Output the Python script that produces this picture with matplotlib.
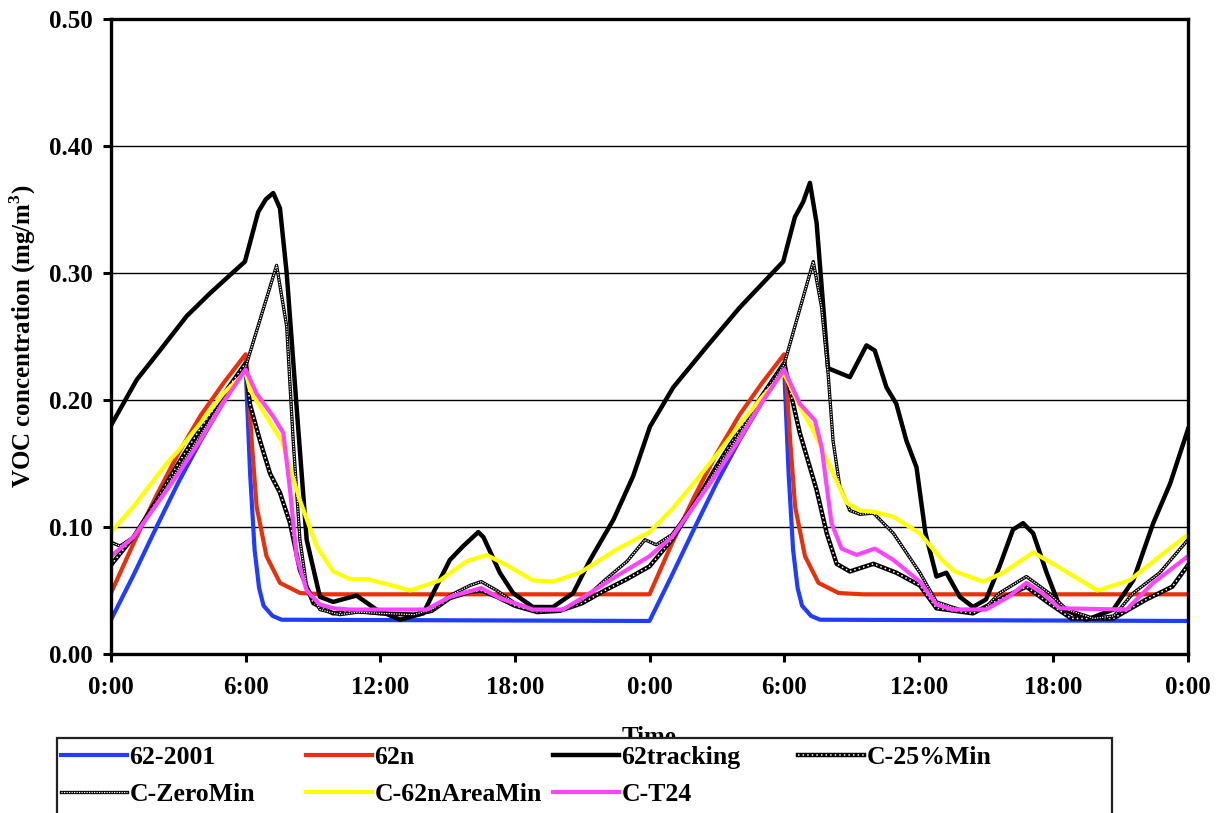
import matplotlib
matplotlib.use("Agg")
import matplotlib.pyplot as plt
from matplotlib.patches import Rectangle

plt.rcParams['font.family'] = ['Liberation Serif', 'DejaVu Serif']
plt.rcParams['font.weight'] = 'bold'
plt.rcParams['mathtext.fontset'] = 'custom'
plt.rcParams['mathtext.rm'] = 'Liberation Serif:bold'
plt.rcParams['mathtext.bf'] = 'Liberation Serif:bold'

# hours since midnight of day 1
t_2001 = [0, 1, 2, 3, 4, 5, 6, 6.2, 6.4, 6.6, 6.8, 7.2, 7.6, 24,
          25, 26, 27, 28, 29, 30, 30.2, 30.4, 30.6, 30.8, 31.2, 31.6, 48]
v_2001 = [0.027, 0.062, 0.099, 0.135, 0.168, 0.198, 0.226, 0.142, 0.082, 0.052, 0.038, 0.030, 0.027, 0.026,
          0.062, 0.099, 0.135, 0.168, 0.198, 0.226, 0.142, 0.082, 0.052, 0.038, 0.030, 0.027, 0.026]

t_62n = [0, 1, 2, 3, 4, 5, 6, 6.1, 6.27, 6.49, 6.93, 7.53, 8.43, 9.5, 24,
         25, 26, 27, 28, 29, 30, 30.1, 30.27, 30.49, 30.93, 31.53, 32.43, 33.5, 48]
v_62n = [0.048, 0.087, 0.124, 0.158, 0.188, 0.213, 0.236, 0.215, 0.168, 0.116, 0.077, 0.056, 0.048, 0.047, 0.047,
         0.087, 0.124, 0.158, 0.188, 0.213, 0.236, 0.215, 0.168, 0.116, 0.077, 0.056, 0.048, 0.047, 0.047]

t_track = [0, 1.15, 2.18, 3.37, 4.41, 5.97, 6.56, 6.9, 7.23, 7.53, 7.83, 8.27, 8.72, 9.31, 9.9, 10.94,
           11.83, 12.88, 13.92, 14.36, 15.1, 15.7, 16.37, 16.6, 17.33, 17.92, 18.8, 19.7, 20.6, 21.35,
           22.4, 23.27, 24.02, 25.06, 26.55, 28.03, 29.96, 30.48, 30.85, 31.15, 31.45, 31.96, 32.93,
           33.67, 34.04, 34.56, 35.0, 35.45, 35.9, 36.3, 36.79, 37.23, 37.83, 38.42, 39.0, 39.6, 40.2,
           40.65, 41.1, 41.7, 42.29, 43.48, 44.67, 45.56, 46.45, 47.2, 48]
v_track = [0.180, 0.216, 0.239, 0.266, 0.284, 0.309, 0.348, 0.358, 0.363, 0.351, 0.300, 0.195, 0.090,
           0.045, 0.041, 0.046, 0.035, 0.027, 0.032, 0.048, 0.074, 0.085, 0.096, 0.092, 0.064, 0.048,
           0.037, 0.037, 0.048, 0.074, 0.106, 0.140, 0.179, 0.210, 0.242, 0.273, 0.309, 0.344, 0.356,
           0.371, 0.339, 0.225, 0.218, 0.243, 0.239, 0.210, 0.197, 0.168, 0.147, 0.095, 0.061, 0.064,
           0.045, 0.037, 0.043, 0.069, 0.098, 0.103, 0.095, 0.064, 0.037, 0.027, 0.035, 0.058, 0.103,
           0.134, 0.177]

t_25 = [0, 0.4, 1, 2, 3, 4, 5, 6, 6.19, 6.64, 7.09, 7.53, 7.98, 8.42, 9.02, 9.9, 11.0, 12.0, 13.5,
        14.3, 15.1, 16.0, 16.5, 17.2, 18.0, 19.0, 20.0, 21.0, 22.0, 23.0, 24.0, 25, 26, 27, 28, 29,
        30, 30.26, 30.7, 31.45, 31.9, 32.34, 32.93, 33.98, 35.0, 36.05, 36.79, 38.42, 39.6, 40.8,
        41.8, 42.8, 44.67, 46.15, 47.3, 48]
v_25 = [0.070, 0.079, 0.092, 0.120, 0.150, 0.178, 0.204, 0.229, 0.197, 0.168, 0.142, 0.127, 0.103,
        0.066, 0.040, 0.032, 0.034, 0.032, 0.031, 0.034, 0.044, 0.049, 0.050, 0.045, 0.038, 0.033,
        0.034, 0.040, 0.050, 0.059, 0.069, 0.090, 0.118, 0.148, 0.176, 0.203, 0.229, 0.208, 0.174,
        0.129, 0.095, 0.071, 0.065, 0.071, 0.064, 0.054, 0.036, 0.032, 0.043, 0.053, 0.040, 0.028,
        0.028, 0.043, 0.053, 0.070]

t_zero = [0, 0.4, 1, 2, 3, 4, 5, 6, 7.38, 7.83, 8.12, 8.42, 8.72, 9.31, 10.2, 11.0, 12.0, 13.5, 14.3,
          15.1, 16.0, 16.5, 17.2, 18.0, 19.0, 20.0, 21.0, 22.0, 23.0, 23.8, 24.3, 25, 26, 27, 28, 29,
          30, 31.3, 31.67, 31.96, 32.18, 32.48, 32.93, 33.38, 33.98, 34.87, 36.05, 36.79, 37.83, 38.9,
          39.6, 40.8, 41.8, 42.6, 43.8, 44.7, 45.56, 46.74, 48]
v_zero = [0.088, 0.085, 0.092, 0.118, 0.146, 0.173, 0.200, 0.226, 0.306, 0.258, 0.168, 0.090, 0.053,
          0.035, 0.031, 0.033, 0.032, 0.031, 0.035, 0.046, 0.054, 0.057, 0.050, 0.040, 0.034, 0.034,
          0.042, 0.058, 0.073, 0.090, 0.086, 0.094, 0.118, 0.146, 0.173, 0.200, 0.228, 0.309, 0.273,
          0.221, 0.168, 0.132, 0.113, 0.110, 0.111, 0.095, 0.064, 0.041, 0.035, 0.035, 0.048, 0.061,
          0.048, 0.035, 0.028, 0.030, 0.048, 0.064, 0.090]

t_area = [0, 1, 2, 2.48, 3, 4, 5, 6, 6.19, 6.64, 7.6, 8.42, 9.16, 9.9, 10.65, 11.4, 12.3, 13.33,
          14.66, 15.85, 16.74, 17.63, 18.8, 19.7, 20.9, 22.5, 24.0, 25, 26, 27, 28, 29, 30, 30.64,
          31.3, 31.9, 32.79, 33.38, 33.98, 34.87, 36.05, 37.09, 37.6, 38.87, 39.76, 41.1, 42.18,
          43.96, 45.4, 46.74, 48]
v_area = [0.096, 0.116, 0.139, 0.150, 0.160, 0.182, 0.205, 0.222, 0.208, 0.195, 0.168, 0.121, 0.085,
          0.065, 0.059, 0.059, 0.055, 0.050, 0.058, 0.073, 0.078, 0.070, 0.058, 0.057, 0.064, 0.082,
          0.096, 0.114, 0.135, 0.157, 0.180, 0.202, 0.221, 0.197, 0.176, 0.153, 0.119, 0.113, 0.112,
          0.108, 0.095, 0.073, 0.065, 0.057, 0.064, 0.080, 0.069, 0.050, 0.058, 0.077, 0.094]

t_t24 = [0, 1, 2, 3, 4, 5, 6, 6.49, 7.23, 7.68, 7.98, 8.27, 8.72, 9.31, 9.9, 10.65, 12, 14.06, 15.1,
         16.5, 17.33, 18.8, 20.15, 21.35, 22.5, 24, 25, 26, 27, 28, 29, 30, 30.7, 31.37, 31.67, 32.11,
         32.56, 33.23, 34.04, 34.87, 36.05, 36.79, 37.5, 39.0, 40.0, 40.8, 41.5, 42.29, 45.26, 46.45, 48]
v_t24 = [0.077, 0.092, 0.117, 0.142, 0.169, 0.198, 0.224, 0.205, 0.187, 0.174, 0.129, 0.077, 0.050,
         0.039, 0.036, 0.035, 0.035, 0.035, 0.045, 0.052, 0.044, 0.035, 0.035, 0.048, 0.061, 0.077,
         0.092, 0.117, 0.142, 0.169, 0.198, 0.224, 0.197, 0.184, 0.163, 0.103, 0.083, 0.078, 0.083,
         0.074, 0.057, 0.039, 0.035, 0.035, 0.045, 0.056, 0.048, 0.036, 0.035, 0.056, 0.077]

x_ticks = [0, 6, 12, 18, 24, 30, 36, 42, 48]
x_labels = ["0:00", "6:00", "12:00", "18:00", "0:00", "6:00", "12:00", "18:00", "0:00"]
y_ticks = [0.0, 0.1, 0.2, 0.3, 0.4, 0.5]

fig = plt.figure(figsize=(12.2, 8.13), dpi=100)
ax = fig.add_axes([111 / 1220, 1 - 654 / 813, 1077 / 1220, 635 / 813])

h_2001, = ax.plot(t_2001, v_2001, color="#1f3cff", lw=3)
h_62n, = ax.plot(t_62n, v_62n, color="#e8300c", lw=3)
h_track, = ax.plot(t_track, v_track, color="black", lw=3.2)
# dotted black curves: black line with white dots on top
a25, = ax.plot(t_25, v_25, color="black", lw=3.2)
b25, = ax.plot(t_25, v_25, color="white", lw=1.1, linestyle=(0, (1, 2)))
az, = ax.plot(t_zero, v_zero, color="black", lw=2.4)
bz, = ax.plot(t_zero, v_zero, color="white", lw=0.9, linestyle=(0, (1, 1)))
h_area, = ax.plot(t_area, v_area, color="#ffff00", lw=3)
h_t24, = ax.plot(t_t24, v_t24, color="#ff44ff", lw=3)

ax.set_xlim(0, 48)
ax.set_ylim(0, 0.5)
ax.set_xticks(x_ticks)
ax.set_xticklabels(x_labels)
ax.set_yticks(y_ticks)
ax.set_yticklabels(["%.2f" % v for v in y_ticks])
ax.tick_params(axis="both", labelsize=18, width=2.2, length=6, direction="out")
ax.tick_params(axis="x", pad=10)
ax.tick_params(axis="y", pad=7)
for s in ax.spines.values():
	s.set_linewidth(2.4)
ax.grid(True, axis="y", color="black", lw=1.0)
ax.set_axisbelow(True)

ax.set_xlabel("Time", fontsize=18, fontweight="bold")
ax.xaxis.set_label_coords(0.5, -0.113)
ax.set_ylabel(r"VOC concentration (mg/m$^{3}$)", fontsize=18, fontweight="bold")
ax.yaxis.set_label_coords(-0.068, 0.5)

# legend box (runs off the bottom of the figure)
box = Rectangle((57 / 1220, -0.05), (1112 - 57) / 1220, 1 - 738 / 813 + 0.05,
	transform=fig.transFigure, facecolor="white", edgecolor="#222222", lw=1.6, zorder=1)
fig.add_artist(box)

columns = [
	([h_2001, (az, bz)], ["62-2001", "C-ZeroMin"], 61),
	([h_62n, h_area], ["62n", "C-62nAreaMin"], 306),
	([h_track, h_t24], ["62tracking", "C-T24"], 553),
	([(a25, b25)], ["C-25%Min"], 798),
]
for handles, labels, xpx in columns:
	fig.legend(handles, labels, loc="upper left", bbox_to_anchor=(xpx / 1220, 1 - 745.5 / 813),
		frameon=False, borderpad=0, borderaxespad=0, handlelength=2.55, handletextpad=0.12,
		labelspacing=0.57, prop={"size": 18.5, "weight": "bold"})

plt.savefig("out.png", dpi=100)
